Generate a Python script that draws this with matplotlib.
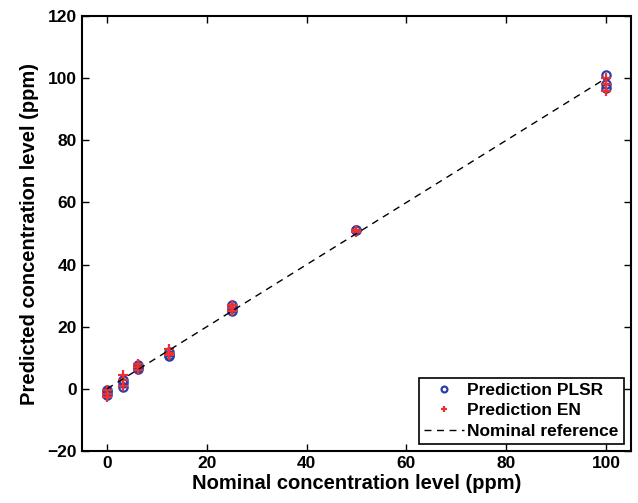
import numpy as np
import matplotlib
matplotlib.use('Agg')
import matplotlib.pyplot as plt

### Data
nominal = [0, 0, 0, 3.125, 3.125, 3.125, 6.25, 6.25, 6.25, 12.5, 12.5, 12.5,
           25, 25, 25, 50, 50, 100, 100, 100]
pred_plsr = [-1.0, -2.0, -0.5, 0.5, 3.0, 2.0, 7.0, 7.8, 6.5, 10.5, 11.0, 11.8,
             25.0, 26.0, 27.0, 51.0, 51.3, 101.0, 98.0, 97.0]
pred_en = [-0.5, -1.5, -2.5, 4.5, 3.0, 1.0, 8.0, 7.0, 6.0, 12.8, 11.5, 11.0,
           27.0, 26.0, 25.0, 51.0, 50.5, 100.0, 98.0, 96.0]
ref_line = [0, 100]

plt.rcParams['font.family'] = ['Liberation Sans', 'DejaVu Sans']
plt.rcParams['font.weight'] = 'bold'
plt.rcParams['font.size'] = 12

fig = plt.figure(figsize=(6.38, 5.03), dpi=100)
ax = fig.add_axes([0.1285, 0.1034, 0.8605, 0.8646])

ax.plot(nominal, pred_plsr, 'o', mfc='none', mec='#2b3fa8', mew=1.6, ms=6,
        label='Prediction PLSR', linestyle='none')
ax.plot(nominal, pred_en, '+', color='#ee3030', mew=1.6, ms=7,
        label='Prediction EN', linestyle='none')
ax.plot(ref_line, ref_line, '--', color='black', lw=1, dashes=(5, 4),
        label='Nominal reference')

ax.set_xlim(-5, 105)
ax.set_ylim(-20, 120)
ax.set_xticks([0, 20, 40, 60, 80, 100])
ax.set_yticks([-20, 0, 20, 40, 60, 80, 100, 120])
ax.tick_params(direction='in', length=5, width=1, top=True, right=True,
               labelsize=12.5)
for s in ax.spines.values():
    s.set_linewidth(1.5)

ax.set_xlabel('Nominal concentration level (ppm)', fontsize=14.5, fontweight='bold', labelpad=2)
ax.set_ylabel('Predicted concentration level (ppm)', fontsize=14.5, fontweight='bold', labelpad=6)

leg = ax.legend(loc='lower right', fancybox=False, edgecolor='black',
                framealpha=1, fontsize=12.5, borderpad=0.3, labelspacing=0.3,
                handlelength=2.3, handletextpad=0.2, borderaxespad=0.4,
                markerscale=0.7)
leg.get_frame().set_linewidth(1.2)

fig.savefig('out.png', dpi=100)
